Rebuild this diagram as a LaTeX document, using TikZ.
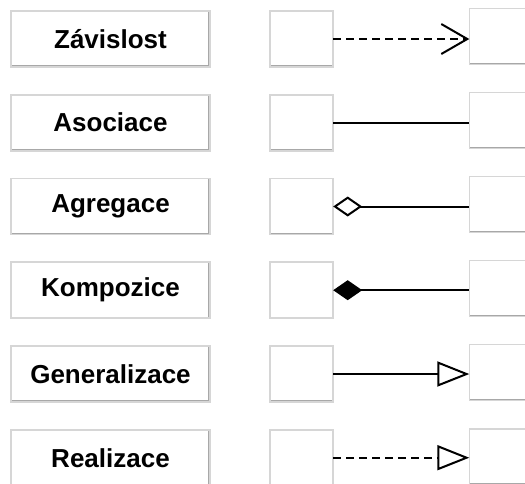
\documentclass[tikz,border=0pt]{standalone}
\usepackage{fontspec}
\setmainfont{Liberation Sans}
\usetikzlibrary{arrows.meta}
\definecolor{edgelight}{HTML}{D6D6D6}
\definecolor{edgedark}{HTML}{A8A8A8}
\tikzset{
  panel/.style={draw=edgelight, line width=1.6pt, fill=white, inner sep=0pt, outer sep=0pt,
    path picture={\draw[edgedark, line width=3.4pt]
      (path picture bounding box.north east) -- (path picture bounding box.south east)
      -- (path picture bounding box.south west);}},
  label/.style={panel, minimum width=199pt, minimum height=56pt,
    font=\fontsize{26pt}{30pt}\selectfont\bfseries},
  cls/.style={panel, minimum width=63pt, minimum height=56pt},
  link/.style={line width=2pt, black},
  dep/.style={link, dash pattern=on 8pt off 5pt},
}
\begin{document}
\begin{tikzpicture}[x=1pt, y=-1pt]
  \useasboundingbox (0,0) rectangle (525,483);
  \clip (0,0) rectangle (525,483);
  % relation names
  \node[label] (l1) at (110.5, 39)   {Závislost};
  \node[label] (l2) at (110.5, 122.7){Asociace};
  \node[label] (l3) at (110.5, 206.5){Agregace};
  \node[label] (l4) at (110.5, 290.2){Kompozice};
  \node[label] (l5) at (110.5, 374)  {Generalizace};
  \node[label] (l6) at (110.5, 457.7){Realizace};
  % source classes
  \node[cls] (a1) at (301.7, 39)    {};
  \node[cls] (a2) at (301.7, 122.7) {};
  \node[cls] (a3) at (301.7, 206.5) {};
  \node[cls] (a4) at (301.7, 290.2) {};
  \node[cls] (a5) at (301.7, 374)   {};
  \node[cls] (a6) at (301.7, 457.7) {};
  % target classes
  \node[cls, anchor=west] (b1) at (469.3, 36.5)  {};
  \node[cls, anchor=west] (b2) at (469.3, 120.5) {};
  \node[cls, anchor=west] (b3) at (469.3, 204.5) {};
  \node[cls, anchor=west] (b4) at (469.3, 288.5) {};
  \node[cls, anchor=west] (b5) at (469.3, 372.5) {};
  \node[cls, anchor=west] (b6) at (469.3, 457)   {};
  % connectors
  \draw[dep, -{Straight Barb[length=26pt, width=30pt, line width=2pt]}]
    (a1.east) -- (a1.east -| b1.west);
  \draw[link] (a2.east) -- (a2.east -| b2.west);
  \draw[link, {Diamond[open, fill=white, length=29pt, width=20pt, line width=2pt]}-]
    (a3.east) -- (a3.east -| b3.west);
  \draw[link, {Diamond[length=29pt, width=20pt]}-]
    (a4.east) -- (a4.east -| b4.west);
  \draw[link, -{Triangle[open, fill=white, length=32pt, width=25pt, line width=2pt]}]
    (a5.east) -- (a5.east -| b5.west);
  \draw[dep, -{Triangle[open, fill=white, length=32pt, width=25pt, line width=2pt]}]
    (a6.east) -- (a6.east -| b6.west);
\end{tikzpicture}
\end{document}
